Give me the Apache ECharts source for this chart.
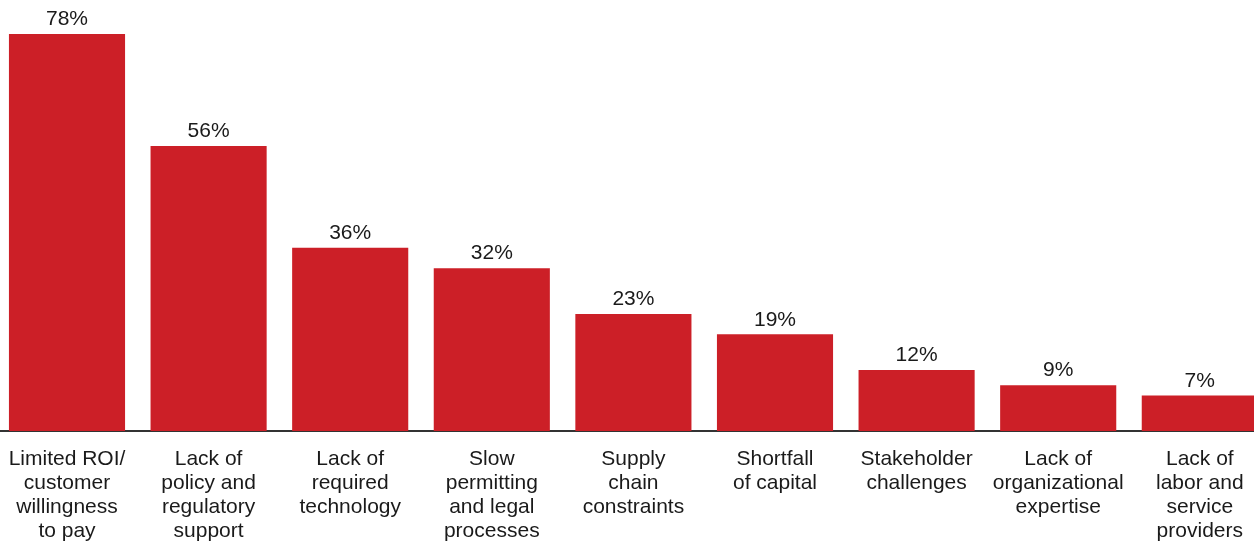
<!DOCTYPE html>
<html>
<head>
<meta charset="utf-8">
<script src="https://cdn.jsdelivr.net/npm/echarts@6/dist/echarts.min.js"></script>
<style>
  html, body { margin: 0; padding: 0; background: #ffffff; }
  #chart { width: 1254px; height: 544px; }
</style>
</head>
<body>
<div id="chart"></div>
<script>
// Barriers, share of respondents (%)
const categories = [
  'Limited ROI/\ncustomer\nwillingness\nto pay',
  'Lack of\npolicy and\nregulatory\nsupport',
  'Lack of\nrequired\ntechnology',
  'Slow\npermitting\nand legal\nprocesses',
  'Supply\nchain\nconstraints',
  'Shortfall\nof capital',
  'Stakeholder\nchallenges',
  'Lack of\norganizational\nexpertise',
  'Lack of\nlabor and\nservice\nproviders'
];
const values = [78, 56, 36, 32, 23, 19, 12, 9, 7];

const chart = echarts.init(document.getElementById('chart'), null, { renderer: 'canvas' });

chart.setOption({
  animation: false,
  backgroundColor: '#ffffff',
  textStyle: { fontFamily: 'Liberation Sans, Arial, sans-serif' },
  grid: {
    left: -3.8, width: 1274.4, top: 0, bottom: 113,
    outerBoundsMode: 'none', containLabel: false
  },
  xAxis: {
    type: 'category',
    data: categories,
    axisLine: { show: true, lineStyle: { color: '#333333', width: 2 } },
    axisTick: { show: false },
    axisLabel: {
      interval: 0,
      margin: 16,
      color: '#1a1a1a',
      fontSize: 21,
      lineHeight: 24,
      align: 'center',
      hideOverlap: false
    }
  },
  yAxis: {
    type: 'value',
    min: 0,
    max: 84.7,
    show: false,
    splitLine: { show: false }
  },
  series: [{
    type: 'bar',
    data: values,
    barCategoryGap: '18%',
    itemStyle: { color: '#CC1F27' },
    label: {
      show: true,
      position: 'top',
      distance: 4,
      formatter: '{c}%',
      color: '#1a1a1a',
      fontSize: 21
    }
  }]
});
</script>
</body>
</html>
